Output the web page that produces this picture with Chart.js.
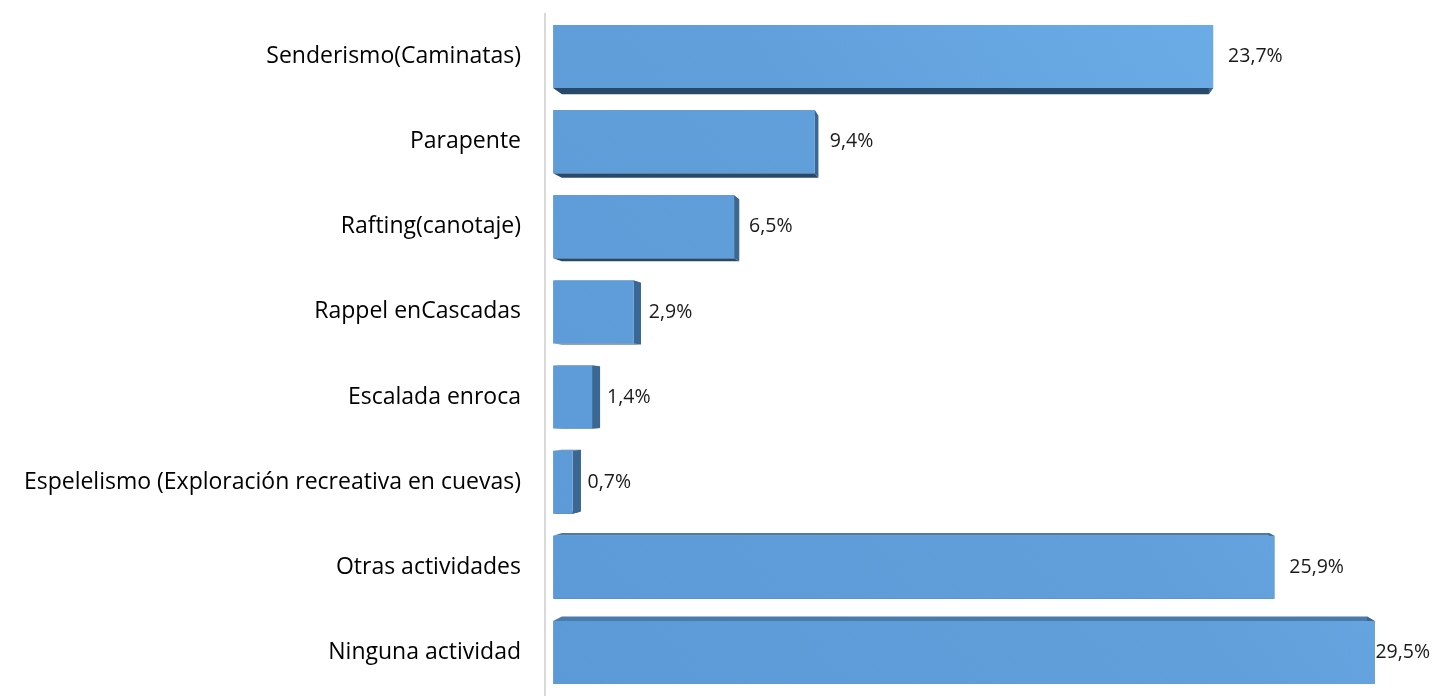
<!DOCTYPE html>
<html lang="es">
<head>
    <meta charset="UTF-8">
    <title>Actividades</title>
    <script src="https://cdn.jsdelivr.net/npm/chart.js"></script>
    <style>
        html, body { margin: 0; padding: 0; background: #fff; }
        #wrap { width: 1432px; height: 696px; }
    </style>
</head>
<body>
    <div id="wrap"><canvas id="barChart"></canvas></div>

    <script>
        const categories = [
            'Senderismo(Caminatas)',
            'Parapente',
            'Rafting(canotaje)',
            'Rappel enCascadas',
            'Escalada enroca',
            'Espelelismo (Exploración recreativa en cuevas)',
            'Otras actividades',
            'Ninguna actividad'
        ];
        const values = [23.7, 9.4, 6.5, 2.9, 1.4, 0.7, 25.9, 29.5];
        const valueLabels = ['23,7%', '9,4%', '6,5%', '2,9%', '1,4%', '0,7%', '25,9%', '29,5%'];

        // fake 3d depth: back face shrinks toward a vanishing point
        const depthPlugin = {
            id: 'depth',
            beforeDatasetsDraw(chart) {
                const ctx = chart.ctx;
                const vx = 993, vy = 400, k = 0.02;
                chart.getDatasetMeta(0).data.forEach(bar => {
                    const x0 = bar.base, x1 = bar.x;
                    const y0 = bar.y - bar.height / 2, y1 = bar.y + bar.height / 2;
                    const p = (x, y) => [x + (vx - x) * k, y + (vy - y) * k];
                    const a = p(x0, y0), b = p(x1, y0), c = p(x1, y1), d = p(x0, y1);
                    const quad = (pts, col) => {
                        ctx.beginPath();
                        ctx.moveTo(pts[0][0], pts[0][1]);
                        for (let i = 1; i < pts.length; i++) ctx.lineTo(pts[i][0], pts[i][1]);
                        ctx.closePath();
                        ctx.fillStyle = col;
                        ctx.fill();
                    };
                    ctx.save();
                    quad([[x0, y0], [x1, y0], b, a], '#4a7cab');   // top
                    quad([[x0, y1], [x1, y1], c, d], '#284a68');   // bottom
                    quad([[x1, y0], [x1, y1], c, b], '#3a6892');   // right
                    ctx.restore();
                });
            }
        };

        const valueLabelPlugin = {
            id: 'valueLabels',
            afterDatasetsDraw(chart) {
                const ctx = chart.ctx;
                ctx.save();
                ctx.font = '19.5px "Open Sans"';
                ctx.fillStyle = '#1a1a1a';
                ctx.textBaseline = 'middle';
                ctx.textAlign = 'left';
                chart.getDatasetMeta(0).data.forEach((bar, i) => {
                    const txt = valueLabels[i];
                    const w = ctx.measureText(txt).width;
                    let x = bar.x + 15;
                    if (x + w > chart.width - 2) x = chart.width - 2 - w;
                    ctx.fillText(txt, x, bar.y);
                });
                ctx.restore();
            }
        };

        function renderBarChart() {
            const ctx = document.getElementById('barChart').getContext('2d');
            new Chart(ctx, {
                type: 'bar',
                data: {
                    labels: categories,
                    datasets: [{
                        data: values,
                        backgroundColor: (c) => {
                            const area = c.chart.chartArea;
                            if (!area) return '#5e9fdb';
                            const g = c.chart.ctx.createLinearGradient(area.left, area.bottom, area.right, area.top);
                            g.addColorStop(0, '#5b9ad6');
                            g.addColorStop(0.5, '#619fdb');
                            g.addColorStop(1, '#6fb2eb');
                            return g;
                        },
                        borderWidth: 0,
                        barPercentage: 0.74,
                        categoryPercentage: 1
                    }]
                },
                options: {
                    indexAxis: 'y',
                    responsive: true,
                    maintainAspectRatio: false,
                    animation: false,
                    layout: { padding: { top: 14, bottom: 1, left: 0, right: 0 } },
                    plugins: {
                        legend: { display: false },
                        tooltip: { enabled: false }
                    },
                    scales: {
                        x: {
                            display: false,
                            min: -0.29,
                            max: 31.56
                        },
                        y: {
                            grid: { display: false, drawTicks: false },
                            border: { display: true, color: '#d9d9d9', width: 2 },
                            ticks: {
                                padding: 24,
                                color: '#000',
                                font: { family: 'Open Sans', size: 23 }
                            },
                            afterFit(scale) {
                                scale.width = 545;
                                scale.paddingTop = 0;
                                scale.paddingBottom = 0;
                            }
                        }
                    }
                },
                plugins: [depthPlugin, valueLabelPlugin]
            });
        }

        window.onload = renderBarChart;
    </script>
</body>
</html>
